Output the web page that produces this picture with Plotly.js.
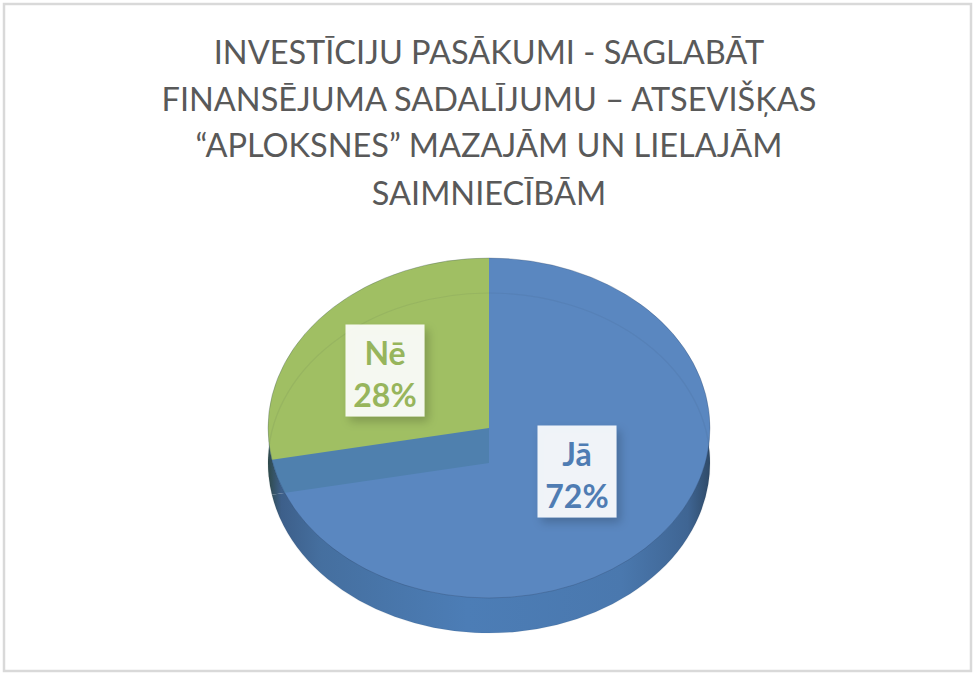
<!DOCTYPE html>
<html><head><meta charset="utf-8">
<script src="https://cdn.plot.ly/plotly-3.0.1.min.js"></script>
<style>html,body{margin:0;padding:0;background:#fff}#c{width:975px;height:677px}</style>
</head><body><div id="c"></div>
<script>
const categories = ['Jā', 'Nē'];
const values = [72, 28];
const titleLines = ['INVESTĪCIJU PASĀKUMI - SAGLABĀT', 'FINANSĒJUMA SADALĪJUMU – ATSEVIŠĶAS', '“APLOKSNES” MAZAJĀM UN LIELAJĀM', 'SAIMNIECĪBĀM'];
const blue = '#5a87c0', green = '#a0bf63', wall = '#4f80ae', none = 'rgba(0,0,0,0)';

const W = 975, H = 677, cx = 489, cy = 428, rx = 221, squash = 170 / 221, depth = 35;
const domain = {x: [(cx - rx) / W, (cx + rx) / W], y: [(H - cy - rx) / H, (H - cy + rx) / H]};

function layer(vals, colors, line) {
  return {type: 'pie', labels: vals.length > 1 ? categories : ['Σ'], values: vals, sort: false, direction: 'clockwise', rotation: 0,
    domain: domain, textinfo: 'none', hoverinfo: 'skip', showlegend: false,
    marker: {colors: colors, line: line || {width: 0}}};
}
const total = values.reduce((a, b) => a + b, 0);
const traces = [
  layer(values, ['#4a76ad', '#4a76ad']),          // side wall
  layer(values, [blue, none]),                    // blue top face
  layer(values, [none, wall]),                    // cut wall below the green slice
  layer(values, [none, green]),                   // green top face
  layer([total], [none], {color: 'rgba(40,60,90,0.3)', width: 1}),  // top rim
  layer([total], [none], {color: 'rgba(40,60,70,0.07)', width: 1.4})   // faint inner arc
];
const offsets = [depth, 0, depth, 0, 0, depth];

function label(i, x, y, color) {
  return {xref: 'paper', yref: 'paper', x: x / W, y: 1 - y / H, xanchor: 'center', yanchor: 'middle',
    text: categories[i] + '<br>' + values[i] + '%', showarrow: false, width: 78, height: 91, borderpad: 0,
    bgcolor: 'rgba(255,255,255,0.9)', font: {family: 'Lato', size: 32, color: color, weight: 700}};
}
const layout = {
  width: W, height: H, margin: {l: 0, r: 0, t: 0, b: 0}, paper_bgcolor: '#fff', showlegend: false,
  title: {text: titleLines.join('<br>'), x: 489 / W, xanchor: 'center', y: 1 - 64 / H, yanchor: 'middle',
    font: {family: 'Lato', size: 32.5, color: '#595959'}},
  annotations: [label(0, 576.5, 471.5, '#4f7cb3'), label(1, 384.5, 370.5, '#97b55c')],
  shapes: [{type: 'rect', xref: 'paper', yref: 'paper', x0: 4 / W, x1: 971 / W, y0: 1 - 671 / H, y1: 1 - 4 / H,
    line: {color: '#d9d9d9', width: 2.5}, fillcolor: none}]
};
Plotly.newPlot('c', traces, layout, {displayModeBar: false, staticPlot: true}).then(() => {
  const svg = document.querySelector('#c svg.main-svg');
  const ns = 'http://www.w3.org/2000/svg';
  const defs = document.createElementNS(ns, 'defs');
  defs.innerHTML = `<linearGradient id="side" gradientUnits="userSpaceOnUse" x1="${cx - rx}" x2="${cx + rx}" y1="0" y2="0">
    <stop offset="0" stop-color="#2f4a4a"/><stop offset="0.03" stop-color="#3d5f8a"/><stop offset="0.12" stop-color="#456f9f"/>
    <stop offset="0.45" stop-color="#4c7db6"/><stop offset="0.8" stop-color="#4a78ae"/><stop offset="0.95" stop-color="#3f6593"/><stop offset="1" stop-color="#2f4a68"/>
  </linearGradient>
  <clipPath id="wallclip" clipPathUnits="userSpaceOnUse"><circle cx="${cx}" cy="${cy - depth / squash}" r="${rx}"/></clipPath>
  <filter id="sh" x="-20%" y="-20%" width="150%" height="150%"><feDropShadow dx="4" dy="5" stdDeviation="5" flood-color="#000" flood-opacity="0.22"/></filter>`;
  svg.insertBefore(defs, svg.firstChild);
  // squash the round pies into the tilted ellipse of the reference
  document.querySelectorAll('#c .pielayer .trace').forEach((g, i) => {
    g.setAttribute('transform', `translate(${cx},${cy + offsets[i]}) scale(1,${squash}) translate(${-cx},${-cy})`);
    if (i === 2) g.setAttribute('clip-path', 'url(#wallclip)');
    if (i === 0) g.querySelectorAll('path.surface').forEach(p => { p.style.fill = 'url(#side)'; });
  });
  document.querySelectorAll('#c .annotation rect.bg').forEach(r => { r.style.filter = 'url(#sh)'; });
  document.querySelectorAll('#c .annotation-text').forEach(t => { t.setAttribute('transform', 'translate(0,3)'); });
  // line spacing of the title
  const tt = document.querySelector('#c .gtitle');
  tt.setAttribute('y', 64);
  tt.querySelectorAll('tspan.line').forEach((s, i) => {
    s.setAttribute('dy', '0');
    s.setAttribute('y', [111, 157, 205, 205][tt.querySelectorAll('tspan.line').length === 3 ? i : i - 1] || 64);
  });
});
</script></body></html>
